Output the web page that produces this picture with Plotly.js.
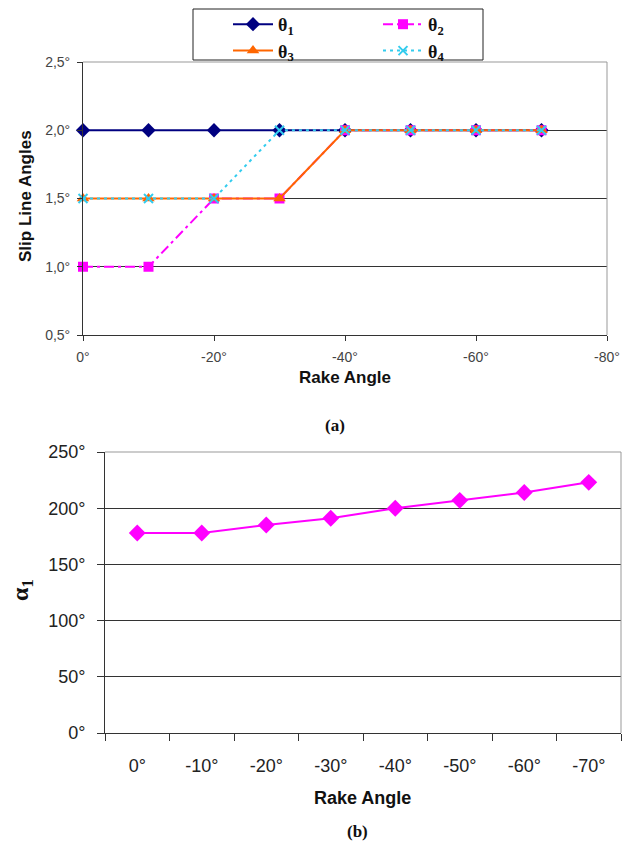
<!DOCTYPE html>
<html>
<head>
<meta charset="utf-8">
<script src="https://cdn.plot.ly/plotly-3.0.1.min.js"></script>
<style>
html,body{margin:0;padding:0;background:#fff;}
#chart{width:634px;height:845px;}
</style>
</head>
<body>
<div id="chart"></div>
<script>
// ---- Data: chart (a) ----
const rakeA = [0, -10, -20, -30, -40, -50, -60, -70];
const theta1 = [2, 2, 2, 2, 2, 2, 2, 2];
const theta2 = [1, 1, 1.5, 1.5, 2, 2, 2, 2];
const theta3 = [1.5, 1.5, 1.5, 1.5, 2, 2, 2, 2];
const theta4 = [1.5, 1.5, 1.5, 2, 2, 2, 2, 2];
const xTickValsA = [0, -20, -40, -60, -80];
const xTickTextA = ['0°', '-20°', '-40°', '-60°', '-80°'];
const yTickValsA = [0.5, 1, 1.5, 2, 2.5];
const yTickTextA = ['0,5°', '1,0°', '1,5°', '2,0°', '2,5°'];

// ---- Data: chart (b) ----
const rakeB = ['0°', '-10°', '-20°', '-30°', '-40°', '-50°', '-60°', '-70°'];
const alpha1 = [178, 178, 185, 191, 200, 207, 214, 223];
const yTickValsB = [0, 50, 100, 150, 200, 250];
const yTickTextB = ['0°', '50°', '100°', '150°', '200°', '250°'];

const W = 634, H = 845;
const px = v => v / W;
const py = v => 1 - v / H;

const sans = 'Arial, Liberation Sans, sans-serif';
const serif = 'Times New Roman, Liberation Serif, serif';

const traces = [
  {x: rakeA, y: theta1, name: 'θ<sub>1</sub>', mode: 'lines+markers', xaxis: 'x', yaxis: 'y', legend: 'legend',
   line: {color: '#000080', width: 2}, marker: {symbol: 'diamond', size: 11, color: '#000080'}, cliponaxis: false},
  {x: rakeA, y: theta2, name: 'θ<sub>2</sub>', mode: 'lines+markers', xaxis: 'x', yaxis: 'y', legend: 'legend2',
   line: {color: '#FF00FF', width: 2, dash: '10px,4px,3px,4px'}, marker: {symbol: 'square', size: 10, color: '#FF00FF'}, cliponaxis: false},
  {x: rakeA, y: theta3, name: 'θ<sub>3</sub>', mode: 'lines+markers', xaxis: 'x', yaxis: 'y', legend: 'legend',
   line: {color: '#FF6600', width: 2}, marker: {symbol: 'triangle-up', size: 11, color: '#FF6600'}, cliponaxis: false},
  {x: rakeA, y: theta4, name: 'θ<sub>4</sub>', mode: 'lines+markers', xaxis: 'x', yaxis: 'y', legend: 'legend2',
   line: {color: '#33CCEE', width: 2, dash: '3px,4px'}, marker: {symbol: 'x-thin', size: 9, color: '#33CCEE', line: {color: '#33CCEE', width: 2}}, cliponaxis: false},
  {x: rakeB, y: alpha1, name: 'α1', mode: 'lines+markers', xaxis: 'x2', yaxis: 'y2', showlegend: false,
   line: {color: '#FF00FF', width: 2}, marker: {symbol: 'diamond', size: 13, color: '#FF00FF'}, cliponaxis: false}
];

const axisCommon = {
  showline: true, linecolor: '#333', linewidth: 1, zeroline: false,
  ticks: 'outside', tickcolor: '#333', tickwidth: 1
};

const layout = {
  width: W, height: H,
  margin: {l: 0, r: 0, t: 0, b: 0},
  paper_bgcolor: '#fff', plot_bgcolor: '#fff',
  xaxis: Object.assign({}, axisCommon, {
    domain: [px(83), px(607)], range: [0, -80], anchor: 'y',
    tickmode: 'array', tickvals: xTickValsA, ticktext: xTickTextA,
    ticklen: 5, showgrid: false, ticklabelstandoff: 4,
    tickfont: {family: sans, size: 14, color: '#444'}
  }),
  yaxis: Object.assign({}, axisCommon, {
    domain: [py(335), py(62)], range: [0.5, 2.5], anchor: 'x',
    tickmode: 'array', tickvals: yTickValsA, ticktext: yTickTextA,
    ticklen: 5, showgrid: true, gridcolor: '#333', gridwidth: 1, ticklabelstandoff: 4,
    tickfont: {family: sans, size: 14, color: '#444'}
  }),
  xaxis2: Object.assign({}, axisCommon, {
    domain: [px(105), px(621)], type: 'category', range: [-0.5, 7.5], anchor: 'y2',
    tickson: 'boundaries', ticklen: 7, showgrid: false, ticklabelstandoff: 16,
    tickfont: {family: sans, size: 18, color: '#222'}
  }),
  yaxis2: Object.assign({}, axisCommon, {
    domain: [py(733), py(452)], range: [0, 250], anchor: 'x2',
    tickmode: 'array', tickvals: yTickValsB, ticktext: yTickTextB,
    ticklen: 7, showgrid: true, gridcolor: '#333', gridwidth: 1, ticklabelstandoff: 8,
    tickfont: {family: sans, size: 18, color: '#222'}
  }),
  legend: {
    x: px(228), y: py(6), xanchor: 'left', yanchor: 'top',
    bgcolor: 'rgba(0,0,0,0)', borderwidth: 0, traceorder: 'normal', tracegroupgap: 0,
    font: {family: serif, size: 18, color: '#111', weight: 'bold'}, itemwidth: 40
  },
  legend2: {
    x: px(378), y: py(6), xanchor: 'left', yanchor: 'top',
    bgcolor: 'rgba(0,0,0,0)', borderwidth: 0, traceorder: 'normal', tracegroupgap: 0,
    font: {family: serif, size: 18, color: '#111', weight: 'bold'}, itemwidth: 40
  },
  shapes: [
    {type: 'rect', xref: 'paper', yref: 'paper', x0: px(193), x1: px(483), y0: py(60), y1: py(9),
     line: {color: '#222', width: 1}, layer: 'below'},
    {type: 'line', xref: 'x domain', yref: 'y domain', x0: 0, x1: 1, y0: 1, y1: 1, line: {color: '#999', width: 1}},
    {type: 'line', xref: 'x domain', yref: 'y domain', x0: 1, x1: 1, y0: 0, y1: 1, line: {color: '#999', width: 1}},
    {type: 'line', xref: 'x2 domain', yref: 'y2 domain', x0: 0, x1: 1, y0: 1, y1: 1, line: {color: '#999', width: 1}},
    {type: 'line', xref: 'x2 domain', yref: 'y2 domain', x0: 1, x1: 1, y0: 0, y1: 1, line: {color: '#999', width: 1}}
  ],
  annotations: [
    {text: 'Slip Line Angles', x: px(25), y: py(196), xref: 'paper', yref: 'paper', textangle: -90, showarrow: false,
     xanchor: 'center', yanchor: 'middle', font: {family: sans, size: 17, color: '#111', weight: 'bold'}},
    {text: 'Rake Angle', x: px(345), y: py(378), xref: 'paper', yref: 'paper', showarrow: false,
     xanchor: 'center', yanchor: 'middle', font: {family: sans, size: 17, color: '#111', weight: 'bold'}},
    {text: '(a)', x: px(335), y: py(425), xref: 'paper', yref: 'paper', showarrow: false,
     xanchor: 'center', yanchor: 'middle', font: {family: serif, size: 17, color: '#111', weight: 'bold'}},
    {text: 'α<sub>1</sub>', x: px(22), y: py(590), xref: 'paper', yref: 'paper', textangle: -90, showarrow: false,
     xanchor: 'center', yanchor: 'middle', font: {family: serif, size: 24, color: '#111', weight: 'bold'}},
    {text: 'Rake Angle', x: px(362), y: py(798), xref: 'paper', yref: 'paper', showarrow: false,
     xanchor: 'center', yanchor: 'middle', font: {family: sans, size: 18, color: '#111', weight: 'bold'}},
    {text: '(b)', x: px(357), y: py(831), xref: 'paper', yref: 'paper', showarrow: false,
     xanchor: 'center', yanchor: 'middle', font: {family: serif, size: 17, color: '#111', weight: 'bold'}}
  ]
};

Plotly.newPlot('chart', traces, layout, {staticPlot: true, displayModeBar: false});
</script>
</body>
</html>
